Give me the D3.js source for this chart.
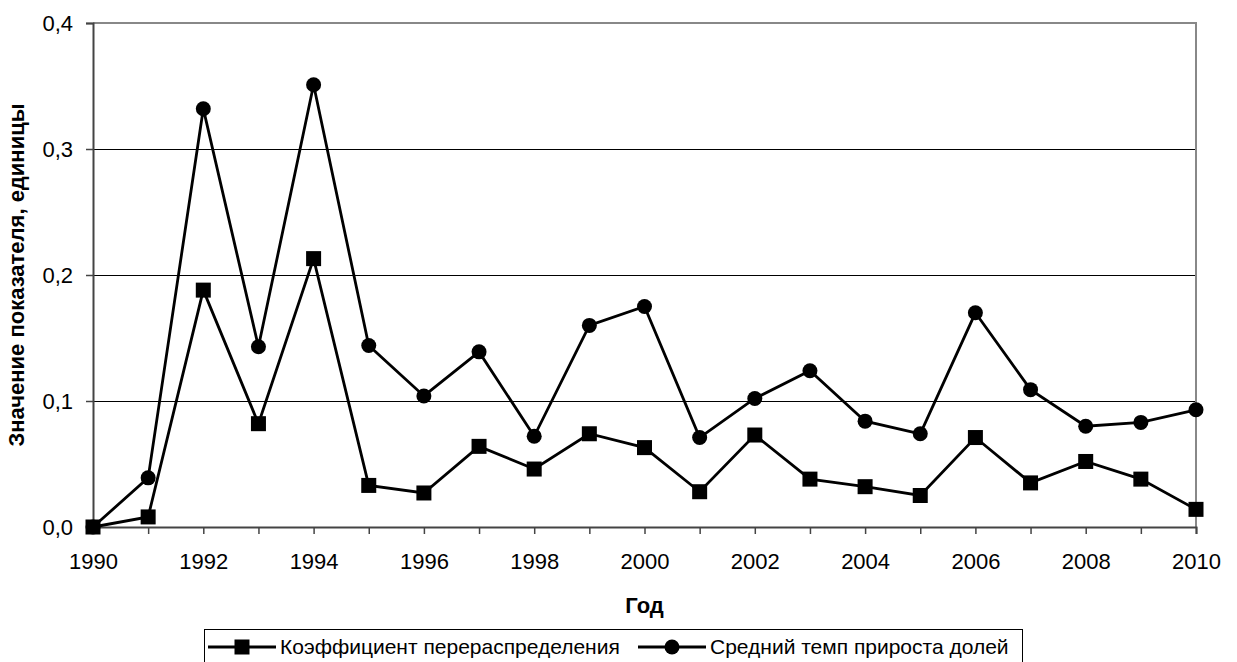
<!DOCTYPE html>
<html>
<head>
<meta charset="utf-8">
<script src="https://cdn.jsdelivr.net/npm/d3@7"></script>
<style>
  body { margin: 0; background: #fff; }
  svg { display: block; font-family: "Liberation Sans", Arial, sans-serif; }
</style>
</head>
<body>
<svg id="chart" width="1237" height="662"></svg>
<script>
// years on the x axis
var years = d3.range(1990, 2011);
// Коэффициент перераспределения (squares)
var koef = [0.000, 0.008, 0.188, 0.082, 0.213, 0.033, 0.027, 0.064, 0.046, 0.074, 0.063,
            0.028, 0.073, 0.038, 0.032, 0.025, 0.071, 0.035, 0.052, 0.038, 0.014];
// Средний темп прироста долей (circles)
var temp = [0.000, 0.039, 0.332, 0.143, 0.351, 0.144, 0.104, 0.139, 0.072, 0.160, 0.175,
            0.071, 0.102, 0.124, 0.084, 0.074, 0.170, 0.109, 0.080, 0.083, 0.093];
var yTicks = [0, 0.1, 0.2, 0.3, 0.4];
var xTicks = d3.range(1990, 2011, 2);
var seriesNames = ['Коэффициент перераспределения', 'Средний темп прироста долей'];

var svg = d3.select('#chart');
var pLeft = 93, pRight = 1196, pTop = 23, pBottom = 527;

var x = d3.scaleLinear().domain([1990, 2010]).range([pLeft, pRight]);
var y = d3.scaleLinear().domain([0, 0.4]).range([pBottom, pTop]);
var fmt = function (d) { return d3.format('.1f')(d).replace('.', ','); };

// gridlines
svg.append('g').attr('shape-rendering', 'crispEdges').selectAll('line')
    .data([0.1, 0.2, 0.3]).enter().append('line')
    .attr('x1', pLeft).attr('x2', pRight)
    .attr('y1', function (d) { return Math.round(y(d)) + 0.5; })
    .attr('y2', function (d) { return Math.round(y(d)) + 0.5; })
    .attr('stroke', '#000').attr('stroke-width', 1);

// grey frame top / right
svg.append('path')
    .attr('d', 'M' + pLeft + ',' + pTop + 'H' + pRight + 'V' + pBottom)
    .attr('fill', 'none').attr('stroke', '#888').attr('stroke-width', 2);

// y axis
var yAxis = svg.append('g').attr('transform', 'translate(' + pLeft + ',0)')
    .call(d3.axisLeft(y).tickValues(yTicks).tickFormat(fmt).tickSize(7).tickPadding(13));
yAxis.select('.domain').attr('stroke', '#444').attr('stroke-width', 2);
yAxis.selectAll('.tick line').attr('stroke', '#444').attr('stroke-width', 1.5);
yAxis.selectAll('text').attr('font-size', 22).attr('fill', '#000')
    .attr('font-family', '"Liberation Sans", Arial, sans-serif');

// x axis
var xAxis = svg.append('g').attr('transform', 'translate(0,' + pBottom + ')')
    .call(d3.axisBottom(x).tickValues(years).tickFormat(function (d) {
        return xTicks.indexOf(d) >= 0 ? d : '';
    }).tickSize(7).tickPadding(19));
xAxis.select('.domain').attr('stroke', '#444').attr('stroke-width', 2);
xAxis.selectAll('.tick line').attr('stroke', '#444').attr('stroke-width', 1.5);
xAxis.selectAll('text').attr('font-size', 22).attr('fill', '#000')
    .attr('font-family', '"Liberation Sans", Arial, sans-serif');

// axis titles
svg.append('text').attr('x', (pLeft + pRight) / 2).attr('y', 613)
    .attr('text-anchor', 'middle').attr('font-size', 22).attr('font-weight', 'bold')
    .text('Год');
svg.append('text')
    .attr('transform', 'translate(24,' + (pTop + pBottom) / 2 + ') rotate(-90)')
    .attr('text-anchor', 'middle').attr('font-size', 22).attr('font-weight', 'bold')
    .text('Значение показателя, единицы');

// series
var line = d3.line().x(function (d, i) { return x(years[i]); }).y(function (d) { return y(d); });
[koef, temp].forEach(function (s) {
    svg.append('path').datum(s).attr('d', line)
        .attr('fill', 'none').attr('stroke', '#000').attr('stroke-width', 2.8);
});
svg.append('g').selectAll('rect').data(koef).enter().append('rect')
    .attr('x', function (d, i) { return x(years[i]) - 7.5; })
    .attr('y', function (d) { return y(d) - 7.5; })
    .attr('width', 15).attr('height', 15).attr('fill', '#000');
svg.append('g').selectAll('circle').data(temp).enter().append('circle')
    .attr('cx', function (d, i) { return x(years[i]); })
    .attr('cy', function (d) { return y(d); })
    .attr('r', 7.5).attr('fill', '#000');

// legend
var lg = svg.append('g');
lg.append('rect').attr('x', 204.5).attr('y', 629.5).attr('width', 818).attr('height', 40)
    .attr('fill', '#fff').attr('stroke', '#000').attr('stroke-width', 1);
var ly = 647;
lg.append('line').attr('x1', 208).attr('x2', 276).attr('y1', ly).attr('y2', ly)
    .attr('stroke', '#000').attr('stroke-width', 2.8);
lg.append('rect').attr('x', 234.5).attr('y', ly - 7.5).attr('width', 15).attr('height', 15).attr('fill', '#000');
lg.append('text').attr('x', 280).attr('y', ly + 7).attr('font-size', 21).text(seriesNames[0]);
lg.append('line').attr('x1', 638).attr('x2', 706).attr('y1', ly).attr('y2', ly)
    .attr('stroke', '#000').attr('stroke-width', 2.8);
lg.append('circle').attr('cx', 672).attr('cy', ly).attr('r', 7.5).attr('fill', '#000');
lg.append('text').attr('x', 710).attr('y', ly + 7).attr('font-size', 21).text(seriesNames[1]);
</script>
</body>
</html>
